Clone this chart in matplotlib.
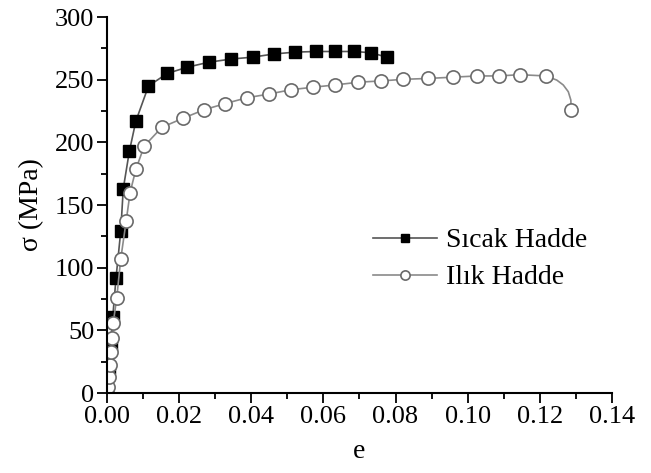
import numpy as np
import matplotlib.pyplot as plt
from matplotlib.ticker import MultipleLocator

plt.rcParams['font.family'] = ['Liberation Serif', 'DejaVu Serif']

# Sıcak Hadde (hot rolled)
e_sicak = [0.0, 0.0005, 0.001, 0.0016, 0.0025, 0.0038, 0.0045, 0.0062, 0.008,
           0.0115, 0.0167, 0.0223, 0.0283, 0.0345, 0.0404, 0.0462, 0.0521,
           0.0579, 0.0633, 0.0685, 0.0733, 0.0775]
s_sicak = [0, 20, 39, 61, 92, 129, 163, 193, 217,
           245, 255, 260, 264, 266.5, 268, 270.5, 272,
           272.5, 272.5, 272.5, 271.5, 268]

# Ilık Hadde (warm rolled), marked points
e_ilik = [0.0, 0.0004, 0.0006, 0.0008, 0.001, 0.0013, 0.0017, 0.0027, 0.0038,
          0.0053, 0.0064, 0.008, 0.0103, 0.0152, 0.0212, 0.0269, 0.0328,
          0.0388, 0.045, 0.051, 0.0571, 0.0632, 0.0697, 0.0759, 0.0822,
          0.089, 0.0958, 0.1027, 0.1086, 0.1145, 0.1216]
s_ilik = [0, 5, 13, 22, 33, 44, 55.6, 76, 107,
          137, 160, 178.5, 197, 212, 219.4, 226, 231,
          235.6, 238.6, 242, 244, 245.8, 248, 249, 250.3,
          251, 252, 253, 253, 254, 253]
# final drop: unmarked line points, then the last marked point
e_drop = [0.1247, 0.1265, 0.1279, 0.1286, 0.1287]
s_drop = [249.7, 245.8, 240.4, 233.8, 226]

e_line = e_ilik + e_drop
s_line = s_ilik + s_drop
marks = list(range(len(e_ilik))) + [len(e_line) - 1]

fig = plt.figure(figsize=(6.51, 4.73), dpi=100)
ax = fig.add_axes([0.1644, 0.169, 0.7756, 0.795])

ax.plot(e_sicak, s_sicak, '-', color='#555555', lw=1.2, marker='s',
        ms=8.5, mfc='black', mec='black', label='Sıcak Hadde')
ax.plot(e_line, s_line, '-', color='#8a8a8a', lw=1.2, marker='o',
        markevery=marks, ms=9.5, mfc='white', mec='#6a6a6a', mew=1.2,
        label='Ilık Hadde')

ax.set_xlim(0, 0.14)
ax.set_ylim(0, 300)
ax.xaxis.set_major_locator(MultipleLocator(0.02))
ax.xaxis.set_minor_locator(MultipleLocator(0.01))
ax.yaxis.set_major_locator(MultipleLocator(50))
ax.yaxis.set_minor_locator(MultipleLocator(25))
ax.xaxis.set_major_formatter(plt.FuncFormatter(lambda v, p: f"{v:.2f}"))
ax.spines['top'].set_visible(False)
ax.spines['right'].set_visible(False)
for s in ['left', 'bottom']:
    ax.spines[s].set_linewidth(1.5)
ax.tick_params(which='major', direction='out', length=7, width=1.3, labelsize=19)
ax.tick_params(which='minor', direction='out', length=4, width=1.3)
ax.tick_params(axis='x', pad=2)
ax.tick_params(axis='y', pad=2)

ax.set_xlabel('e', fontsize=20, labelpad=8)
ax.set_ylabel('σ (MPa)', fontsize=20, labelpad=8)

ax.legend(loc='upper left', bbox_to_anchor=(0.527, 0.439), frameon=False,
          borderaxespad=0, borderpad=0,
          fontsize=20, handlelength=2.3, handletextpad=0.32, labelspacing=0.41,
          markerscale=0.7)

fig.savefig('out.png', dpi=100)
